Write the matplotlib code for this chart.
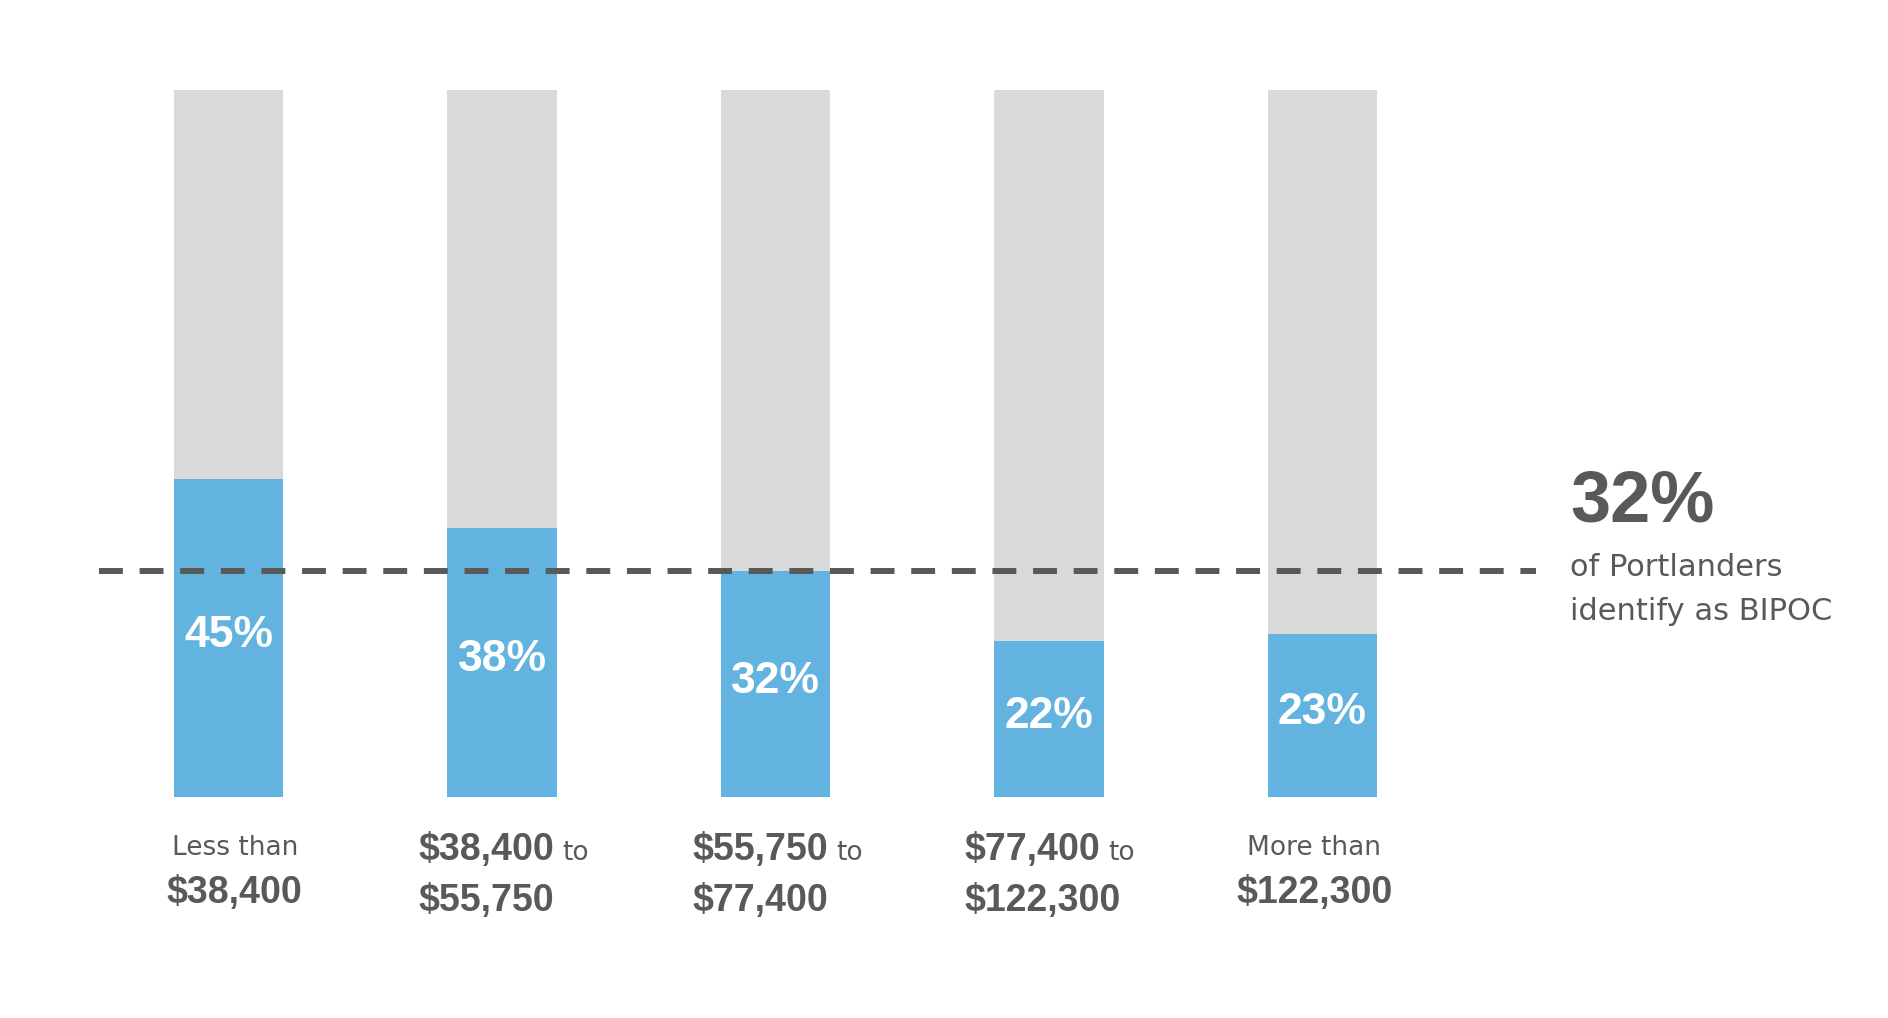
import matplotlib

matplotlib.use("Agg")
import matplotlib.pyplot as plt

# --- data -----------------------------------------------------------------
label_lead = ["Less than", "$38,400", "$55,750", "$77,400", "More than"]
label_tail = ["$38,400", "$55,750", "$77,400", "$122,300", "$122,300"]
bipoc_share = [45, 38, 32, 22, 23]
city_share = 32
city_note = ["of Portlanders", "identify as BIPOC"]

# --- style ----------------------------------------------------------------
W, H, DPI = 1888, 1018, 100
GREY = "#D9D9D9"
BLUE = "#63B3E0"
INK = "#595959"
BOLD_FONT = "Liberation Sans"
REG_FONT = "DejaVu Sans"

fig = plt.figure(figsize=(W / DPI, H / DPI), dpi=DPI)
ax = fig.add_axes([0, 0, 1, 1])
ax.axis("off")

# pixel layout: bars every ~273 px, 100% spans ~707 px above the baseline
x0_px, step_px, base_px, px_per_pct = 228.7, 273.4, 797.0, 7.07
ax.set_xlim(-x0_px / step_px, (W - x0_px) / step_px)
ax.set_ylim(-(H - base_px) / px_per_pct, base_px / px_per_pct)

xs = list(range(len(bipoc_share)))
ax.bar(xs, [100] * len(xs), width=0.4, color=GREY, zorder=1)
ax.bar(xs, bipoc_share, width=0.4, color=BLUE, zorder=2)

for x, v in zip(xs, bipoc_share):
    ax.text(x, v / 2 + 0.4, f"{v}%", ha="center", va="center", color="white",
            fontsize=32, fontweight="bold", family=BOLD_FONT, zorder=4)

# dashed city-wide reference line
x_from = (99 - x0_px) / step_px
x_to = (1536 - x0_px) / step_px
ax.plot([x_from, x_to], [city_share, city_share], color=INK, linewidth=4.3,
        dashes=(4, 2.8), solid_capstyle="butt", dash_capstyle="butt", zorder=3)


def fig_xy(px, py):
    return px / W, 1 - py / H


# category labels (block left-aligned, roughly centered under the bar)
nudge = [6, 2, 2, 1, -8]
fig.canvas.draw()
renderer = fig.canvas.get_renderer()
for i, (lead, tail) in enumerate(zip(label_lead, label_tail)):
    cx = x0_px + i * step_px + nudge[i]
    if lead.startswith("$"):
        y1, y2 = 860, 911
        t1 = fig.text(0, 0, lead, fontsize=27, fontweight="bold",
                      family=BOLD_FONT, color=INK, va="baseline")
        t_to = fig.text(0, 0, "to", fontsize=19, family=REG_FONT,
                        color=INK, va="baseline")
        t2 = fig.text(0, 0, tail, fontsize=27, fontweight="bold",
                      family=BOLD_FONT, color=INK, va="baseline")
        w1 = t1.get_window_extent(renderer).width
        wto = t_to.get_window_extent(renderer).width
        w2 = t2.get_window_extent(renderer).width
        gap = 8
        left = cx - max(w1 + gap + wto, w2) / 2
        t1.set_position(fig_xy(left, y1))
        t_to.set_position(fig_xy(left + w1 + gap, y1))
        t2.set_position(fig_xy(left, y2))
    else:
        y1, y2 = 855, 903
        fig.text(*fig_xy(cx, y1), lead, fontsize=19, family=REG_FONT,
                 color=INK, ha="center", va="baseline")
        fig.text(*fig_xy(cx, y2), tail, fontsize=27, fontweight="bold",
                 family=BOLD_FONT, color=INK, ha="center", va="baseline")

# right-side annotation
fig.text(*fig_xy(1570, 522), f"{city_share}%", fontsize=52, fontweight="bold",
         family=BOLD_FONT, color=INK, ha="left", va="baseline")
for line, py in zip(city_note, [576, 620]):
    fig.text(*fig_xy(1570, py), line, fontsize=22, family=REG_FONT,
             color=INK, ha="left", va="baseline")

fig.savefig("out.png", dpi=DPI, facecolor="white")
